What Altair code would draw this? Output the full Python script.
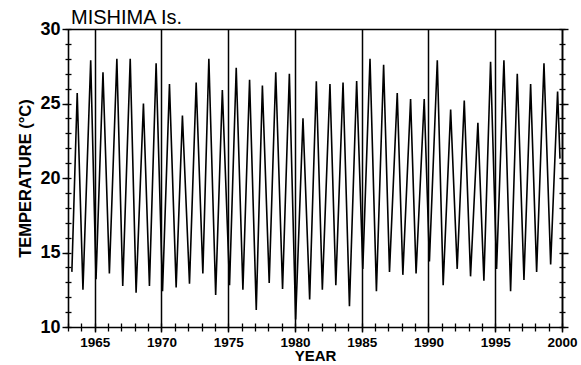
import altair as alt
import pandas as pd

# Seasonal maxima (decimal year, deg C)
peak_year = [1963.69, 1964.70, 1965.62, 1966.66, 1967.66, 1968.65, 1969.60, 1970.60,
             1971.57, 1972.60, 1973.55, 1974.56, 1975.60, 1976.60, 1977.56, 1978.56,
             1979.58, 1980.60, 1981.60, 1982.62, 1983.60, 1984.62, 1985.62, 1986.64,
             1987.66, 1988.66, 1989.68, 1990.66, 1991.66, 1992.68, 1993.70, 1994.65,
             1995.65, 1996.65, 1997.65, 1998.65, 1999.67]
peak_temp = [25.7, 27.9, 27.1, 28.0, 28.0, 25.0, 27.7, 26.3,
             24.2, 26.4, 28.0, 25.9, 27.4, 26.6, 26.2, 27.1,
             27.0, 24.0, 26.5, 26.3, 26.4, 26.5, 28.0, 27.6,
             25.7, 25.3, 25.3, 27.9, 24.6, 25.2, 23.7, 27.8,
             27.9, 27.0, 26.3, 27.7, 25.8]

# Seasonal minima
trough_year = [1964.12, 1965.10, 1966.10, 1967.10, 1968.10, 1969.10, 1970.08, 1971.10,
               1972.10, 1973.10, 1974.06, 1975.10, 1976.10, 1977.10, 1978.07, 1979.07,
               1980.05, 1981.10, 1982.05, 1983.06, 1984.08, 1985.08, 1986.10, 1987.08,
               1988.08, 1989.07, 1990.07, 1991.10, 1992.15, 1993.15, 1994.15, 1995.10,
               1996.15, 1997.15, 1998.10, 1999.15]
trough_temp = [12.5, 13.2, 13.6, 12.75, 12.3, 12.75, 12.4, 12.65,
               12.9, 13.6, 12.15, 12.8, 12.5, 11.15, 12.95, 12.55,
               10.5, 11.85, 12.5, 12.8, 11.4, 13.9, 12.4, 13.7,
               13.5, 13.6, 14.4, 12.8, 13.9, 13.4, 13.1, 13.9,
               12.4, 13.15, 13.7, 14.2]

# First and last records
end_year = [1963.29, 1999.85]
end_temp = [13.7, 21.3]

major_years = [1965, 1970, 1975, 1980, 1985, 1990, 1995, 2000]
minor_years = list(range(1963, 2001))
y_major = [10, 15, 20, 25, 30]
y_minor = list(range(10, 31))

df = pd.DataFrame({
    "year": peak_year + trough_year + end_year,
    "temp": peak_temp + trough_temp + end_temp,
}).sort_values("year").reset_index(drop=True)

FONT = "Liberation Sans"
xs = alt.Scale(domain=[1963, 2000], nice=False, zero=False)
ys = alt.Scale(domain=[10, 30], nice=False, zero=False)

base = alt.Chart(df)

main = base.mark_line(color="black", strokeWidth=1.6).encode(
    x=alt.X("year:Q", scale=xs, axis=alt.Axis(
        orient="bottom", values=major_years, format="d", title="YEAR",
        grid=True, gridColor="black", gridOpacity=1, gridWidth=1.5,
        tickSize=5, tickColor="black", tickWidth=1.4,
        domainColor="black", domainWidth=1.6,
        labelFont=FONT, labelFontSize=13.5, labelFontWeight="bold", labelColor="black",
        labelPadding=3, labelFlush=False,
        titleFont=FONT, titleFontSize=15, titleFontWeight="bold", titleColor="black",
        titlePadding=0)),
    y=alt.Y("temp:Q", scale=ys, axis=alt.Axis(
        orient="left", values=y_major, title="TEMPERATURE (°C)", grid=False,
        tickSize=6, tickColor="black", tickWidth=1.4,
        domainColor="black", domainWidth=1.6,
        labelFont=FONT, labelFontSize=18, labelFontWeight="bold", labelColor="black",
        labelPadding=2, labelFlush=False,
        titleFont=FONT, titleFontSize=16.5, titleFontWeight="bold", titleColor="black",
        titlePadding=6)),
)

minor = base.mark_line(opacity=0).encode(
    x=alt.X("year:Q", scale=xs, axis=alt.Axis(
        orient="bottom", values=minor_years, offset=-4, tickSize=8,
        tickColor="black", tickWidth=1.3, labels=False, domain=False,
        grid=False, title=None)),
    y=alt.Y("temp:Q", scale=ys, axis=alt.Axis(
        orient="left", values=y_minor, offset=-3, tickSize=6,
        tickColor="black", tickWidth=1.3, labels=False, domain=False,
        grid=False, title=None)),
)

frame = base.mark_line(opacity=0).encode(
    x=alt.X("year:Q", scale=xs, axis=alt.Axis(
        orient="top", ticks=False, labels=False, domain=True,
        domainColor="black", domainWidth=1.6, grid=False, title=None)),
    y=alt.Y("temp:Q", scale=ys, axis=alt.Axis(
        orient="right", values=y_major, tickSize=6, tickColor="black",
        tickWidth=1.4, labels=False, domain=True, domainColor="black",
        domainWidth=1.6, grid=False, title=None)),
)

rminor = base.mark_line(opacity=0).encode(
    x=alt.X("year:Q", scale=xs, axis=None),
    y=alt.Y("temp:Q", scale=ys, axis=alt.Axis(
        orient="right", values=y_minor, offset=-3, tickSize=6,
        tickColor="black", tickWidth=1.3, labels=False, domain=False,
        grid=False, title=None)),
)

chart = alt.layer(main, minor, frame, rminor).resolve_axis(
    x="independent", y="independent"
).properties(
    width=494, height=298,
    padding={"left": 68, "top": 29, "right": 19, "bottom": 38},
    autosize=alt.AutoSizeParams(type="none"),
    title=alt.TitleParams("MISHIMA Is.", anchor="start", frame="group",
                          font=FONT, fontSize=20, fontWeight="normal",
                          color="black", offset=6, dx=3, dy=14),
    background="white",
).configure_view(stroke=None)

chart.save("out.html", embed_options={"renderer": "svg", "actions": False})
